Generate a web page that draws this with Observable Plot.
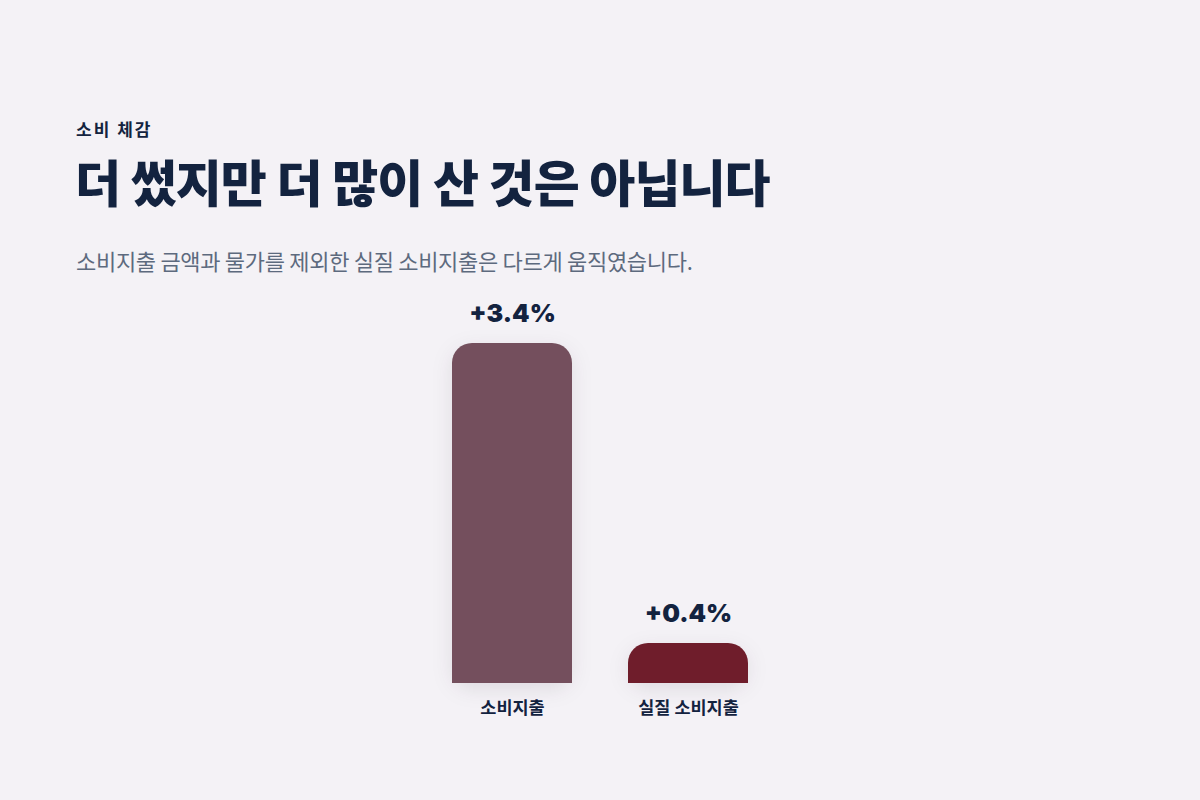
<!DOCTYPE html>
<html>
<head>
<meta charset="utf-8">
<script src="https://cdn.jsdelivr.net/npm/d3@7"></script>
<script src="https://cdn.jsdelivr.net/npm/@observablehq/plot@0.6"></script>
<style>
  html, body { margin: 0; padding: 0; background: #f4f2f6; }
  body { width: 1200px; height: 800px; position: relative; overflow: hidden;
         font-family: Inter, "Noto Sans CJK KR", sans-serif; color: #13233f; }
  .eyebrow { position: absolute; left: 76px; top: 116px; font-size: 17px; font-weight: 700;
             letter-spacing: 2px; font-family: "Noto Sans CJK KR", sans-serif; }
  .title { position: absolute; left: 75px; top: 153px; font-size: 50px; font-weight: 800;
           letter-spacing: -0.9px; line-height: 1.1; font-family: "Noto Sans CJK KR", sans-serif; }
  .subtitle { position: absolute; left: 76px; top: 244px; font-size: 22px; font-weight: 400;
              color: #5d6a7e; letter-spacing: -0.3px; font-family: "Noto Sans CJK KR", sans-serif; }
  #chart { position: absolute; left: 0; top: 280px; }
  #chart .bars { filter: drop-shadow(0 6px 10px rgba(40, 20, 40, 0.10)); }
</style>
</head>
<body>
<div class="eyebrow">소비 체감</div>
<div class="title">더 썼지만 더 많이 산 것은 아닙니다</div>
<div class="subtitle">소비지출 금액과 물가를 제외한 실질 소비지출은 다르게 움직였습니다.</div>
<div id="chart"></div>
<script>
const categories = ["소비지출", "실질 소비지출"];
const values = [3.4, 0.4];
const valueLabels = ["+3.4%", "+0.4%"];
const barColors = ["#744f5d", "#6f1d2b"];

const data = categories.map((c, i) => ({category: c, value: values[i], label: valueLabels[i], color: barColors[i]}));

const chart = Plot.plot({
  width: 1200,
  height: 460,
  marginTop: 0, marginBottom: 0, marginLeft: 0, marginRight: 0,
  style: {background: "transparent", overflow: "visible"},
  x: {domain: categories, range: [452, 748], paddingInner: 56 / 176, paddingOuter: 0, axis: null},
  y: {domain: [0, 3.4], range: [403, 63], axis: null},
  color: {type: "identity"},
  marks: [
    Plot.barY(data, {x: "category", y: "value", fill: "color", rx: 20, className: "bars"}),
    Plot.barY(data, {x: "category", y1: 0, y2: d => d.value / 2, fill: "color"}),
    Plot.text(data, {x: "category", y: "value", text: "label", dy: -30,
      fontSize: 25, fontWeight: 900, fill: "#13233f", fontFamily: "Inter, sans-serif"}),
    Plot.text(data, {x: "category", y: 0, text: "category", dy: 25,
      fontSize: 17.5, fontWeight: 700, fill: "#13233f", fontFamily: "'Noto Sans CJK KR', sans-serif"})
  ]
});
document.getElementById("chart").appendChild(chart);
</script>
</body>
</html>
